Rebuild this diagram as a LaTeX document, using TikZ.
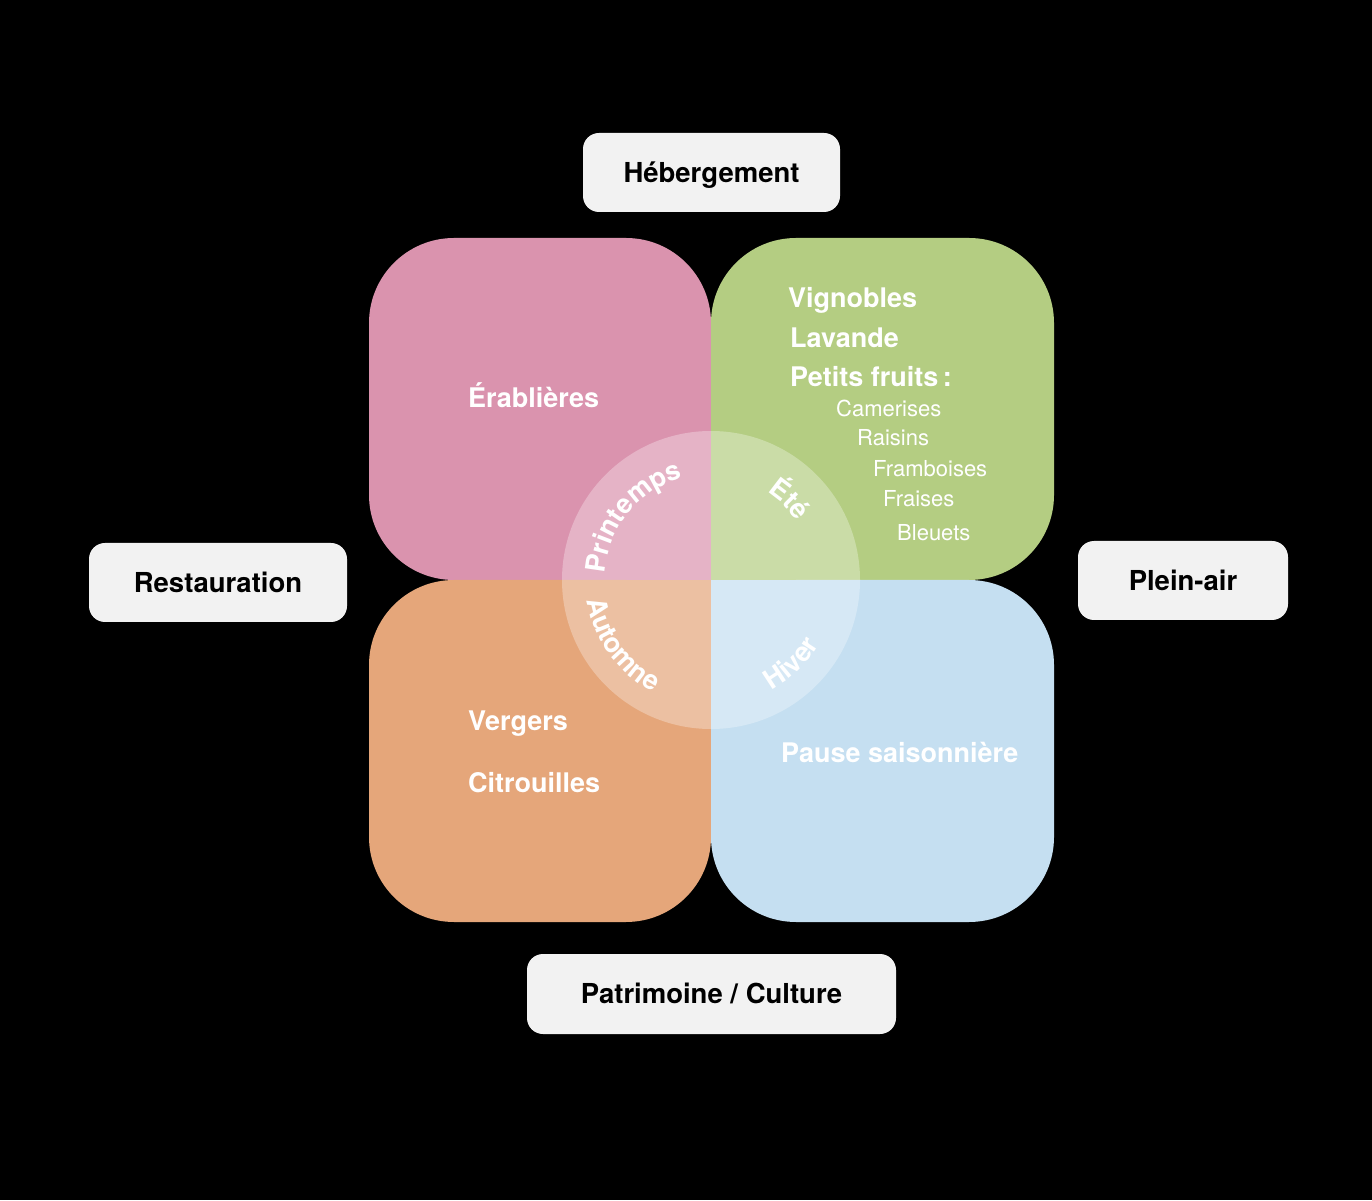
\documentclass[tikz,border=0pt]{standalone}
\usepackage{fontspec}
\setmainfont{TeX Gyre Heros}
\usetikzlibrary{decorations.text}
\definecolor{pinkq}{HTML}{DA93AE}
\definecolor{greenq}{HTML}{B4CD82}
\definecolor{orangeq}{HTML}{E5A67A}
\definecolor{blueq}{HTML}{C5DFF1}
\definecolor{boxgray}{HTML}{F2F2F2}
\newcommand\bigbold{\fontsize{27}{32}\selectfont\bfseries}
\newcommand\smallreg{\fontsize{22}{26}\selectfont}
\newcommand\boxfont{\fontsize{27.5}{32}\selectfont\bfseries}
\newcommand\seasonfont{\fontsize{27}{32}\selectfont\bfseries\color{white}}
\begin{document}
\begin{tikzpicture}[x=1pt,y=1pt,
  catbox/.style={draw=none, fill=boxgray, rounded corners=16pt, inner sep=0pt,
    text height=19.8pt, text depth=0pt, font=\boxfont, text=black},
  item/.style={anchor=base west, inner sep=0pt, text=white, font=\bigbold},
  subitem/.style={anchor=base west, inner sep=0pt, text=white, font=\smallreg},
  quad/.style={rounded corners=85pt},
  season/.style={decorate, decoration={text along path, text align=center, text={#1}}}
]
\fill[black] (0,0) rectangle (1372,1200);
\useasboundingbox (0,0) rectangle (1372,1200);

% quadrants
\fill[pinkq, quad] (369,620) rectangle (711,962);
\fill[pinkq] (626,620) rectangle (711,705);
\fill[greenq, quad] (711,620) rectangle (1054,962);
\fill[greenq] (711,620) rectangle (796,705);
\fill[orangeq, quad] (369,278) rectangle (711,620);
\fill[orangeq] (626,535) rectangle (711,620);
\fill[blueq, quad] (711,278) rectangle (1054,620);
\fill[blueq] (711,535) rectangle (796,620);

% central circle
\fill[white, fill opacity=0.3] (711,620) circle (149);

% seasons
\path[shift={(711,620)}, season={|\seasonfont|Printemps}] (185:106) arc[start angle=185, end angle=97, radius=106];
\path[shift={(711,620)}, season={|\seasonfont|Été}] (80:104) arc[start angle=80, end angle=12, radius=104];
\path[shift={(711,620)}, season={|\seasonfont|Automne}] (170:126) arc[start angle=170, end angle=262, radius=126];
\path[shift={(711,620)}, season={|\seasonfont|Hiver}] (270:126) arc[start angle=270, end angle=358, radius=126];

% quadrant texts
\node[item] (erab) at (468,792) {Érablières};
\node[item] (vign) at (788,892) {Vignobles};
\node[item] (lav) at (790,852) {Lavande};
\node[item] (pf) at (790,813) {Petits fruits\,:};
\node[subitem] (cam) at (836,783) {Camerises};
\node[subitem] (rai) at (857,754) {Raisins};
\node[subitem] (fra) at (873,723) {Framboises};
\node[subitem] (frs) at (883,693) {Fraises};
\node[subitem] (ble) at (897,659) {Bleuets};
\node[item] (verg) at (468,469) {Vergers};
\node[item] (citr) at (468,408) {Citrouilles};
\node[item] (pause) at (781,438) {Pause saisonnière};

% category boxes
\node[catbox, minimum width=257pt, minimum height=79pt] (heb) at (711.5,1027.5) {Hébergement};
\node[catbox, minimum width=258pt, minimum height=79pt] (rest) at (218,617.5) {Restauration};
\node[catbox, minimum width=210pt, minimum height=79pt] (plein) at (1183,619.5) {Plein-air};
\node[catbox, minimum width=369pt, minimum height=80pt] (patr) at (711.5,206) {Patrimoine / Culture};
\end{tikzpicture}
\end{document}
